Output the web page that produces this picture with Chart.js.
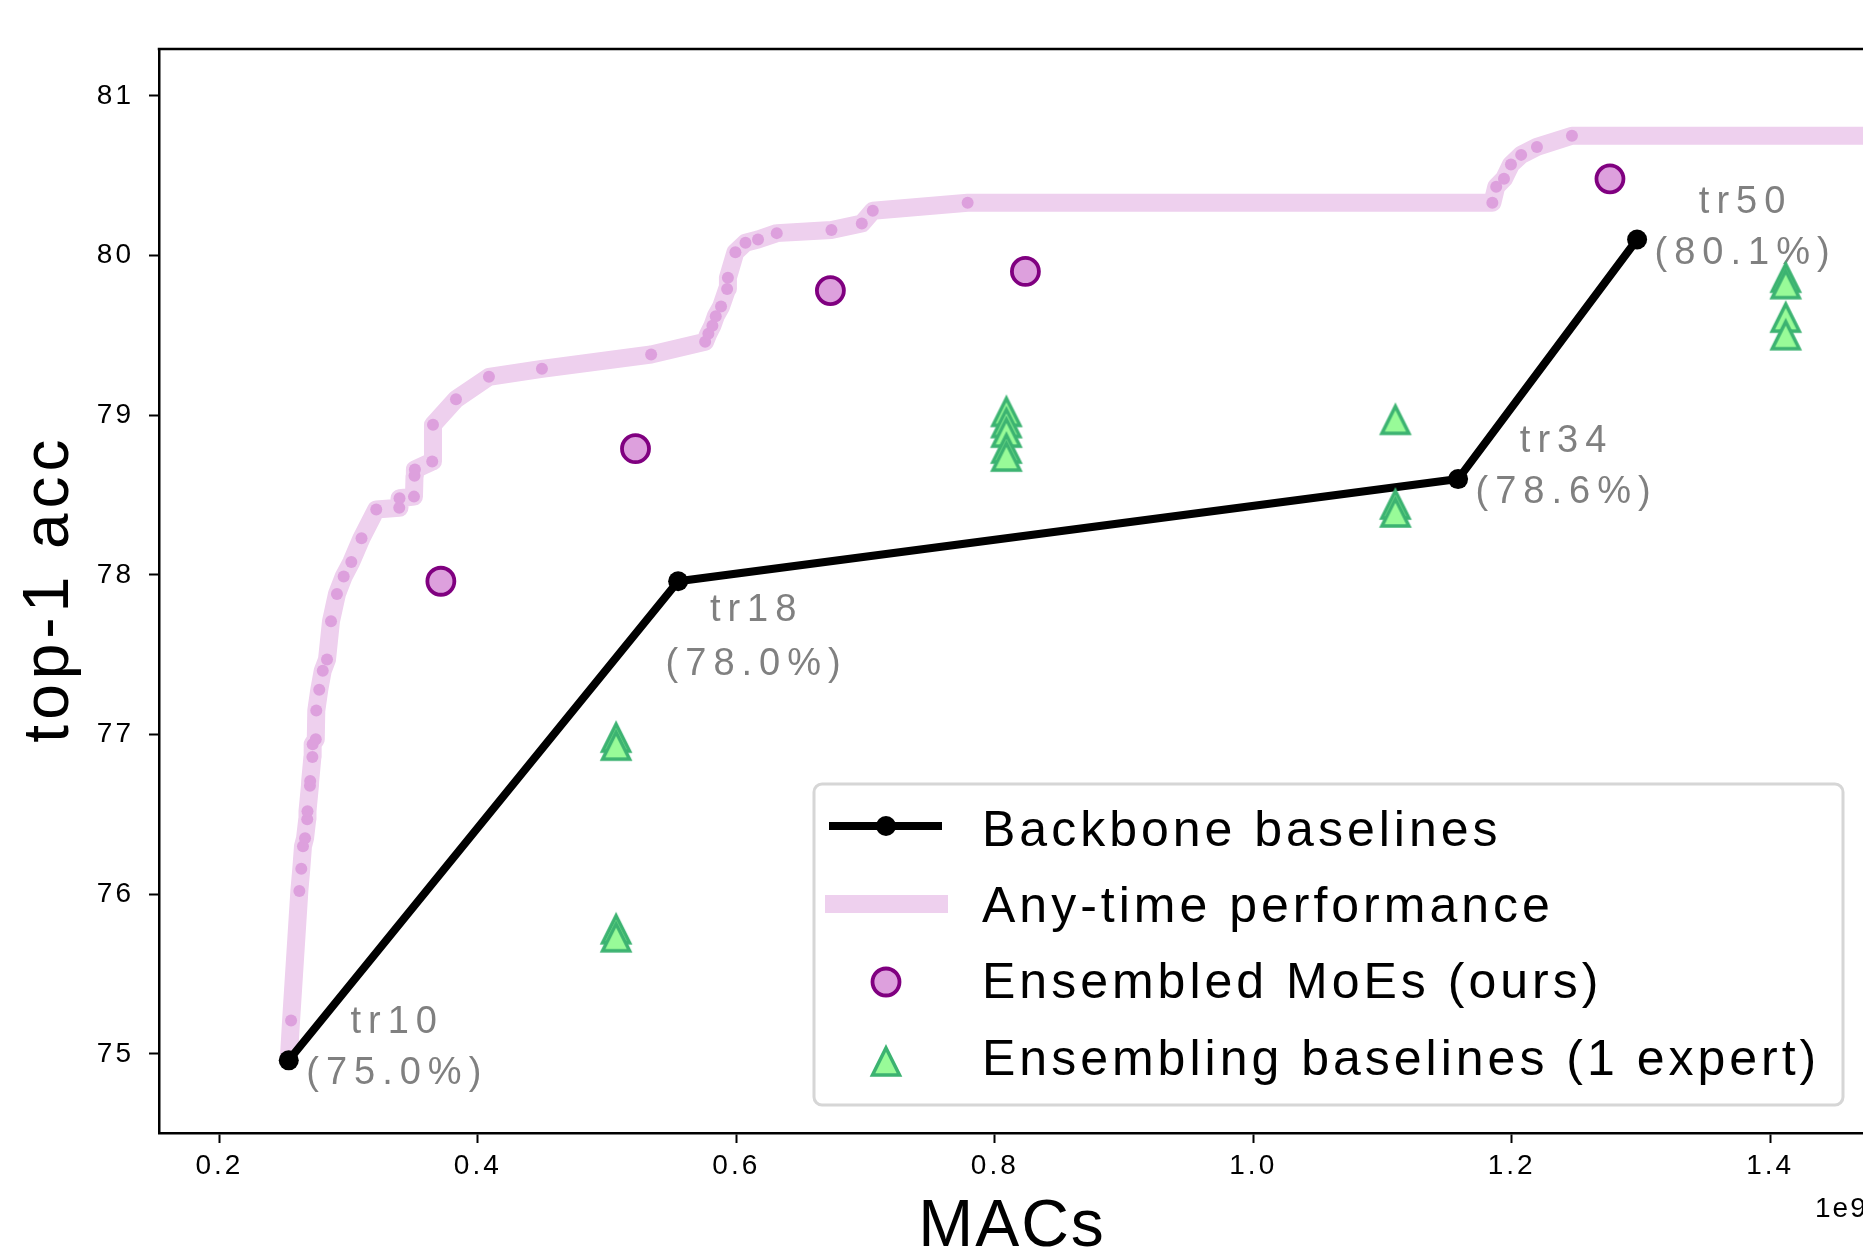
<!DOCTYPE html>
<html>
<head>
<meta charset="utf-8">
<script src="https://cdn.jsdelivr.net/npm/chart.js@4.4.0/dist/chart.umd.min.js"></script>
<style>
  html, body { margin: 0; padding: 0; background: #fff; }
  canvas { display: block; }
</style>
</head>
<body>
<canvas id="macsChart" width="1863" height="1248"></canvas>
<script>
// backbone baselines (MACs in units of 1e9)
const backboneNames = ["tr10", "tr18", "tr34", "tr50"];
const backbonePct = ["(75.0%)", "(78.0%)", "(78.6%)", "(80.1%)"];
const backboneMacs = [0.2537, 0.555, 1.1585, 1.297];
const backboneAcc = [74.96, 77.96, 78.60, 80.10];

// any-time performance (exit points along the envelope)
const anytimeMacs = [
  0.2555, 0.2619, 0.2634, 0.2647, 0.2663, 0.2680, 0.2682, 0.2701, 0.2703, 0.2720,
  0.2722, 0.2746, 0.2750, 0.2773, 0.2800, 0.2833, 0.2864, 0.2910, 0.2962, 0.3021,
  0.3100, 0.3214, 0.3392, 0.3394, 0.3506, 0.3510, 0.3513, 0.3647, 0.3653, 0.3831,
  0.4086, 0.4496, 0.5341, 0.5759, 0.5784, 0.5815, 0.5841, 0.5882, 0.5929, 0.5935,
  0.5993, 0.6071, 0.6168, 0.6313, 0.6736, 0.6971, 0.7056, 0.7790, 1.1850, 1.1880,
  1.1940, 1.1994, 1.2073, 1.2195, 1.2466
];
const anytimeAcc = [
  75.21, 76.02, 76.16, 76.30, 76.35, 76.47, 76.52, 76.68, 76.71, 76.86,
  76.94, 76.97, 77.15, 77.28, 77.40, 77.47, 77.71, 77.88, 77.99, 78.08,
  78.23, 78.41, 78.42, 78.48, 78.49, 78.62, 78.66, 78.71, 78.94, 79.10,
  79.24, 79.29, 79.38, 79.46, 79.51, 79.56, 79.62, 79.68, 79.79, 79.86,
  80.02, 80.08, 80.10, 80.14, 80.16, 80.20, 80.28, 80.33, 80.33, 80.43,
  80.48, 80.57, 80.63, 80.68, 80.75
];
const anytimeTailMacs = 1.55; // envelope keeps going past the right edge

// ensembled MoEs (ours)
const moeMacs = [0.3714, 0.522, 0.6728, 0.8237, 1.276];
const moeAcc = [77.96, 78.79, 79.78, 79.90, 80.48];

// ensembling baselines (1 expert)
const ensMacs = [0.507, 0.507, 0.507, 0.507, 0.809, 0.809, 0.809, 0.809, 0.809,
  1.110, 1.110, 1.110, 1.412, 1.412, 1.412, 1.412];
const ensAcc = [76.99, 76.94, 75.79, 75.74, 79.03, 78.96, 78.90, 78.80, 78.75,
  78.98, 78.45, 78.40, 79.87, 79.83, 79.62, 79.51];

const xTickStep = 0.2;
const yTickStep = 1;

const FONT = "'Liberation Sans', Arial, sans-serif";
const PINK_LINE = "#eed0ee";
const PLUM = "#dda0dd";
const PURPLE = "#800080";
const GREEN_FILL = "#98fb98";
const GREEN_EDGE = "#3cb371";

// label offsets (px) from each backbone point: dx, name centre dy, pct centre dy
const labelOffsets = [[105, -41, 10], [75, 26, 80], [105, -41, 10], [105, -41, 10]];

function zip(xs, ys) {
  return xs.map((x, i) => ({ x: x, y: ys[i] }));
}

function makeTriangle() {
  const c = document.createElement("canvas");
  c.width = 36;
  c.height = 36;
  const g = c.getContext("2d");
  g.beginPath();
  g.moveTo(18, 6);
  g.lineTo(31.5, 33);
  g.lineTo(4.5, 33);
  g.closePath();
  g.fillStyle = GREEN_FILL;
  g.fill();
  g.lineWidth = 3.5;
  g.lineJoin = "miter";
  g.strokeStyle = GREEN_EDGE;
  g.stroke();
  return c;
}
const triangle = makeTriangle();

function drawText(ctx, str, x, y, size, color, spacing, align) {
  ctx.save();
  ctx.font = size + "px " + FONT;
  ctx.fillStyle = color;
  ctx.letterSpacing = spacing + "px";
  ctx.textAlign = align || "left";
  ctx.textBaseline = "alphabetic";
  const shift = align === "center" ? spacing / 2 : 0;
  ctx.fillText(str, x + shift, y);
  ctx.restore();
}

const envelope = [{ x: backboneMacs[0], y: backboneAcc[0] }]
  .concat(zip(anytimeMacs, anytimeAcc))
  .concat([{ x: anytimeTailMacs, y: anytimeAcc[anytimeAcc.length - 1] }]);

const extras = {
  id: "extras",
  beforeDraw(chart) {
    chart.ctx.letterSpacing = "3px";
  },
  beforeDatasetsDraw(chart) {
    const ctx = chart.ctx;
    const xs = chart.scales.x, ys = chart.scales.y;
    backboneNames.forEach((name, i) => {
      const px = xs.getPixelForValue(backboneMacs[i]);
      const py = ys.getPixelForValue(backboneAcc[i]);
      const o = labelOffsets[i];
      drawText(ctx, name, px + o[0], py + o[1] + 14, 38, "#808080", 7, "center");
      drawText(ctx, backbonePct[i], px + o[0], py + o[2] + 14, 38, "#808080", 7, "center");
    });
  },
  afterDraw(chart) {
    const ctx = chart.ctx;
    const a = chart.chartArea;
    ctx.save();
    ctx.letterSpacing = "0px";
    // top spine
    ctx.strokeStyle = "#000";
    ctx.lineWidth = 2.5;
    ctx.beginPath();
    ctx.moveTo(a.left - 1.25, a.top);
    ctx.lineTo(a.right, a.top);
    ctx.stroke();
    ctx.restore();

    // axis titles + offset text
    drawText(ctx, "MACs", (a.left + a.right) / 2, 1246, 66, "#000", 2, "center");
    ctx.save();
    ctx.translate(68, (a.top + a.bottom) / 2);
    ctx.rotate(-Math.PI / 2);
    drawText(ctx, "top-1 acc", 0, 0, 64, "#000", 5, "center");
    ctx.restore();
    drawText(ctx, "1e9", 1815, 1217, 28, "#000", 2, "left");

    // legend
    ctx.save();
    ctx.letterSpacing = "0px";
    ctx.beginPath();
    ctx.roundRect(814, 784, 1029, 321, 8);
    ctx.fillStyle = "rgba(255,255,255,0.8)";
    ctx.fill();
    ctx.lineWidth = 3;
    ctx.strokeStyle = "#d6d6d6";
    ctx.stroke();

    ctx.lineCap = "butt";
    ctx.strokeStyle = "#000";
    ctx.lineWidth = 8;
    ctx.beginPath();
    ctx.moveTo(829, 826);
    ctx.lineTo(942, 826);
    ctx.stroke();
    ctx.fillStyle = "#000";
    ctx.beginPath();
    ctx.arc(886, 826, 10, 0, Math.PI * 2);
    ctx.fill();

    ctx.strokeStyle = PINK_LINE;
    ctx.lineWidth = 18;
    ctx.beginPath();
    ctx.moveTo(825, 904);
    ctx.lineTo(948, 904);
    ctx.stroke();

    ctx.beginPath();
    ctx.arc(886, 982, 13.5, 0, Math.PI * 2);
    ctx.fillStyle = PLUM;
    ctx.fill();
    ctx.lineWidth = 3.8;
    ctx.strokeStyle = PURPLE;
    ctx.stroke();

    ctx.drawImage(triangle, 886 - 18, 1060 - 18);
    ctx.restore();

    const legendTexts = ["Backbone baselines", "Any-time performance",
      "Ensembled MoEs (ours)", "Ensembling baselines (1 expert)"];
    const baselines = [846, 922, 998, 1075];
    legendTexts.forEach((t, i) => drawText(ctx, t, 982, baselines[i], 50, "#000", 4, "left"));
  }
};

const tickFont = { family: FONT, size: 28 };

// keep the plot box fixed, no extra room for edge tick labels
function fixBox(scale, w, h) {
  if (w) scale.width = w;
  if (h) scale.height = h;
  scale.paddingLeft = 0;
  scale.paddingRight = 0;
  scale.paddingTop = 0;
  scale.paddingBottom = 0;
}

new Chart(document.getElementById("macsChart").getContext("2d"), {
  type: "scatter",
  data: {
    datasets: [
      {
        label: "Ensembling baselines (1 expert)",
        data: zip(ensMacs, ensAcc),
        pointStyle: triangle,
        pointRadius: 15,
        order: 1
      },
      {
        label: "Ensembled MoEs (ours)",
        data: zip(moeMacs, moeAcc),
        pointRadius: 13.5,
        pointBackgroundColor: PLUM,
        pointBorderColor: PURPLE,
        pointBorderWidth: 3.8,
        order: 2
      },
      {
        label: "Backbone baselines",
        type: "line",
        data: zip(backboneMacs, backboneAcc),
        borderColor: "#000",
        borderWidth: 8,
        borderJoinStyle: "round",
        pointRadius: 10,
        pointBackgroundColor: "#000",
        pointBorderWidth: 0,
        order: 3
      },
      {
        label: "exits",
        data: zip(anytimeMacs, anytimeAcc),
        pointRadius: 6,
        pointBackgroundColor: PLUM,
        pointBorderWidth: 0,
        order: 4
      },
      {
        label: "Any-time performance",
        type: "line",
        data: envelope,
        borderColor: PINK_LINE,
        borderWidth: 18,
        borderJoinStyle: "round",
        borderCapStyle: "butt",
        pointRadius: 0,
        order: 5
      }
    ]
  },
  options: {
    responsive: false,
    animation: false,
    events: [],
    layout: { autoPadding: false, padding: { top: 49, right: 0, left: 0, bottom: 0 } },
    plugins: { legend: { display: false }, tooltip: { enabled: false } },
    scales: {
      x: {
        type: "linear",
        min: 0.1533,
        max: 1.4718,
        afterFit(scale) { fixBox(scale, 0, 115); },
        ticks: {
          stepSize: xTickStep,
          includeBounds: false,
          autoSkip: false,
          maxRotation: 0,
          padding: 6,
          color: "#000",
          font: tickFont,
          callback: (v) => v.toFixed(1)
        },
        grid: { drawOnChartArea: false, tickLength: 10, tickWidth: 2, tickColor: "#000" },
        border: { color: "#000", width: 2.5 }
      },
      y: {
        type: "linear",
        min: 74.505,
        max: 81.293,
        afterFit(scale) { fixBox(scale, 159, 0); },
        ticks: {
          stepSize: yTickStep,
          includeBounds: false,
          padding: 15,
          color: "#000",
          font: tickFont,
          callback: (v) => v.toFixed(0)
        },
        grid: { drawOnChartArea: false, tickLength: 10, tickWidth: 2, tickColor: "#000" },
        border: { color: "#000", width: 2.5 }
      }
    }
  },
  plugins: [extras]
});
</script>
</body>
</html>
